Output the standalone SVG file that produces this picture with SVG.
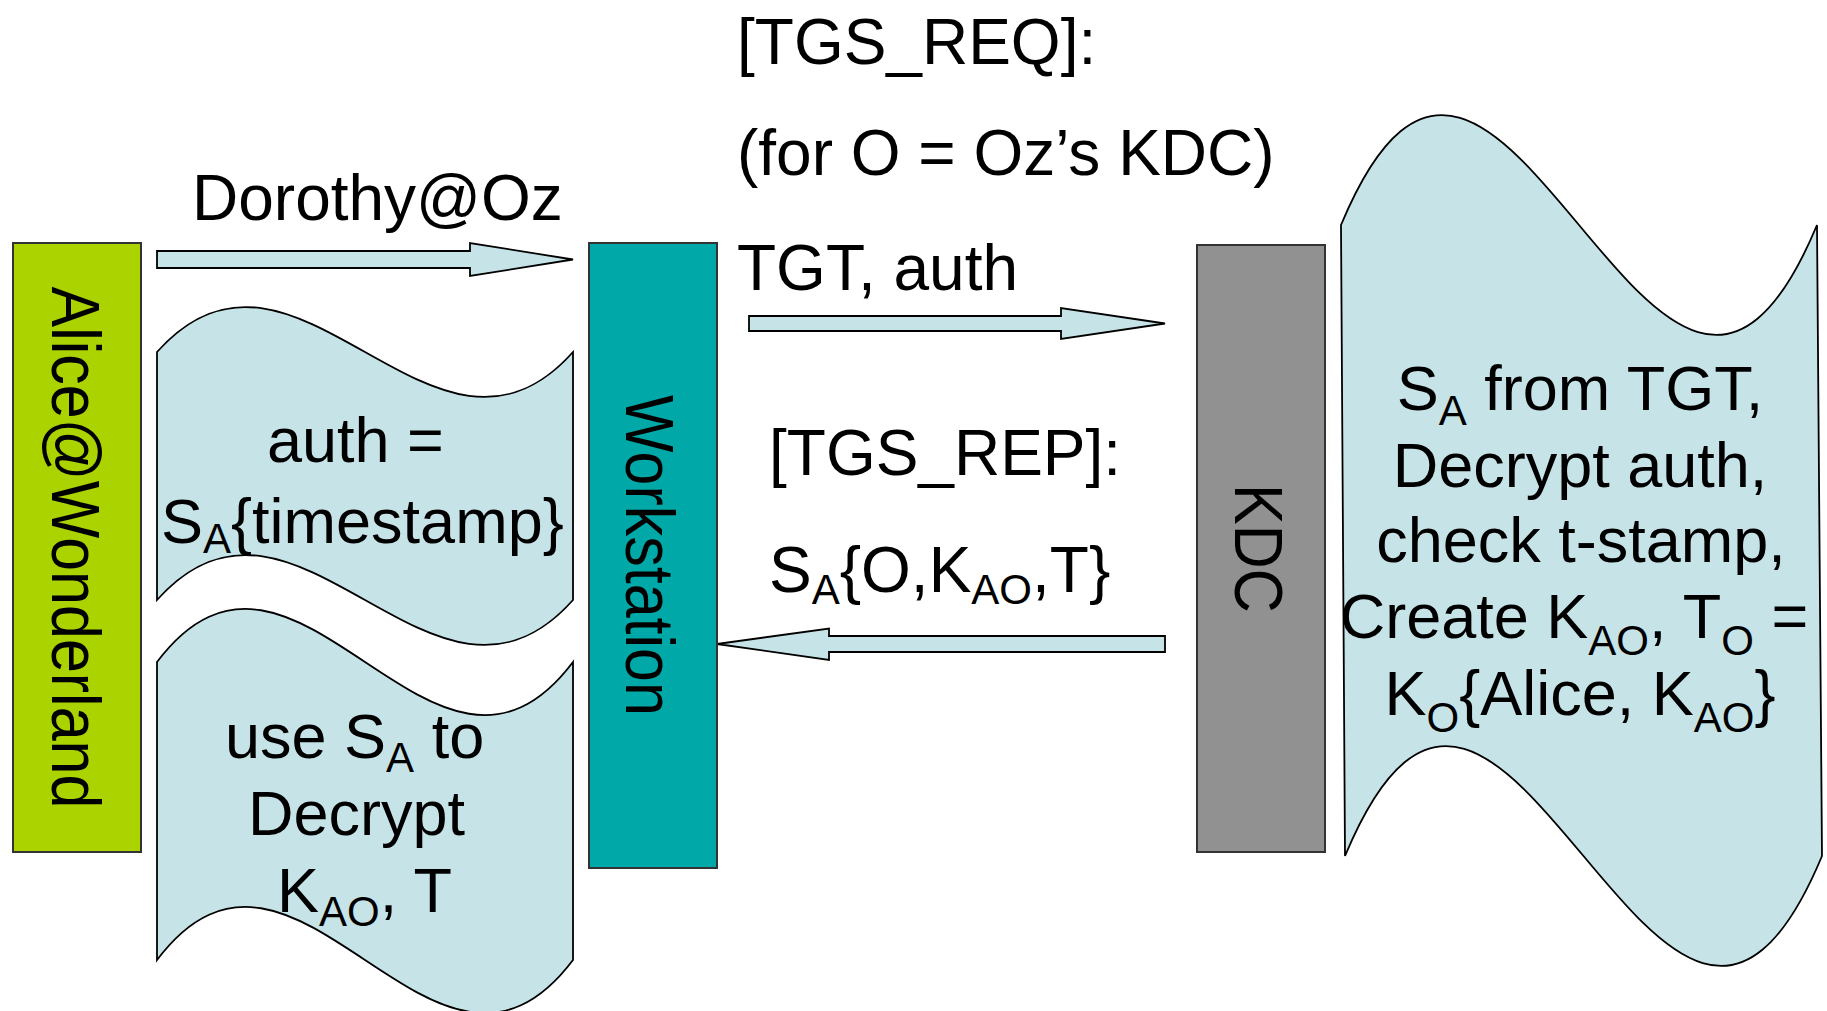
<svg xmlns="http://www.w3.org/2000/svg" width="1827" height="1011" viewBox="0 0 1827 1011">
<style>
text{font-family:"Liberation Sans",Arial,sans-serif;font-size:63px;fill:#000}
.lbl{font-size:64px}
.rot{font-size:61px}
.sub{font-size:42px}
.wave{fill:#C6E4E8;stroke:#000;stroke-width:1.8}
.arrow{fill:#C6E4E8;stroke:#000;stroke-width:1.8}
.box{stroke:#333;stroke-width:2}
</style>
<rect width="1827" height="1011" fill="#fff"/>
<g id="connectors">
<polygon class="arrow" points="157,251 470,251 470,243 573,259.5 470,276 470,268 157,268"/>
<polygon class="arrow" points="749,316 1061,316 1061,308 1165,323.5 1061,339 1061,331 749,331"/>
<polygon class="arrow" points="1165,636 829,636 829,628.5 717,644 829,660 829,652 1165,652"/>
</g>
<g id="labels">
<text class="lbl" x="192" y="220">Dorothy@Oz</text>
<text class="lbl" x="737" y="64">[TGS_REQ]:</text>
<text class="lbl" x="737" y="175">(for O = Oz’s KDC)</text>
<text class="lbl" x="737" y="290">TGT, auth</text>
<text class="lbl" x="769" y="475">[TGS_REP]:</text>
<text class="lbl" x="769" y="592">S<tspan class="sub" dy="12">A</tspan><tspan dy="-12">{O,K</tspan><tspan class="sub" dy="12">AO</tspan><tspan dy="-12">,T}</tspan></text>
</g>
<g id="alice">
<rect class="box" x="13" y="243" width="128" height="609" fill="#AAD300"/>
<text class="rot" transform="translate(52,547.5) rotate(90) scale(1,1.12)" text-anchor="middle">Alice@Wonderland</text>
</g>
<g id="workstation">
<rect class="box" x="589" y="243" width="128" height="625" fill="#00A8A8"/>
<text class="rot" transform="translate(626,555.5) rotate(90) scale(1,1.12)" text-anchor="middle">Workstation</text>
</g>
<g id="kdc">
<rect class="box" x="1197" y="245" width="128" height="607" fill="#919191"/>
<text class="rot" transform="translate(1235,548.5) rotate(90) scale(1,1.12)" text-anchor="middle">KDC</text>
</g>
<g id="auth">
<path class="wave" d="M157,352 C296,196 434,508 573,352 L573,600 C434,756 296,444 157,600 Z"/>
<text x="267" y="462">auth =</text>
<text x="161" y="543">S<tspan class="sub" dy="10">A</tspan><tspan dy="-10">{timestamp}</tspan></text>
</g>
<g id="decrypt">
<path class="wave" d="M157,662 C296,478 434,846 573,662 L573,960 C434,1144 296,776 157,960 Z"/>
<text x="225" y="758">use S<tspan class="sub" dy="14">A</tspan><tspan dy="-14"> to</tspan></text>
<text x="248" y="835">Decrypt</text>
<text x="277" y="912">K<tspan class="sub" dy="14">AO</tspan><tspan dy="-14">, T</tspan></text>
</g>
<g id="kdc-process">
<path class="wave" d="M1341,225 C1500,-156 1658,606 1817,225 L1822,856 C1663,1237 1504,475 1345,856 Z"/>
<text x="1580" y="410" text-anchor="middle">S<tspan class="sub" dy="15">A</tspan><tspan dy="-15"> from TGT,</tspan></text>
<text x="1580" y="487" text-anchor="middle">Decrypt auth,</text>
<text x="1581" y="562" text-anchor="middle">check t-stamp,</text>
<text x="1574" y="638" text-anchor="middle">Create K<tspan class="sub" dy="17">AO</tspan><tspan dy="-17">, T</tspan><tspan class="sub" dy="17">O</tspan><tspan dy="-17"> =</tspan></text>
<text x="1580" y="715" text-anchor="middle">K<tspan class="sub" dy="17">O</tspan><tspan dy="-17">{Alice, K</tspan><tspan class="sub" dy="17">AO</tspan><tspan dy="-17">}</tspan></text>
</g>
</svg>
